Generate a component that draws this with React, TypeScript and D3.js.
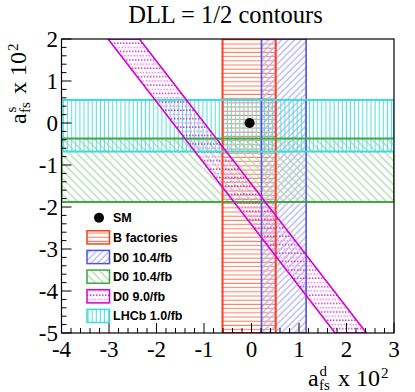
import React from "react";
import * as d3 from "d3";

// ---- data (units of 10^-2) ----
const xDomain = [-4, 3];
const yDomain = [-5, 2];
const xTickValues = [-4, -3, -2, -1, 0, 1, 2, 3];
const yTickValues = [-5, -4, -3, -2, -1, 0, 1, 2];
const bFactoriesAd = [-0.61, 0.51];
const d0AdRange = [0.21, 1.15];
const d0AsRange = [-1.88, -0.37];
const lhcbAsRange = [-0.68, 0.55];
const d0DimuonAtTop = [-3.02, -2.36]; // a_fs^d edges where a_fs^s = 2
const d0DimuonAtBottom = [1.76, 2.42]; // a_fs^d edges where a_fs^s = -5
const smPoint = [-0.04, 0.0];
const legendLabels = ["SM", "B factories", "D0 10.4/fb", "D0 10.4/fb", "D0 9.0/fb", "LHCb 1.0/fb"];
const legendKeys = ["sm", "bfac", "d0d", "d0s", "d0mu", "lhcb"];

const W = 415, H = 392;
const M = { left: 61.5, right: 394, top: 39, bottom: 333 };

const colors: Record<string, { line: string; hatch: string }> = {
  bfac: { line: "#ff3d1f", hatch: "#ff8266" },
  d0d: { line: "#5050e0", hatch: "#b4b4ee" },
  d0s: { line: "#3fa83f", hatch: "#b0dab0" },
  d0mu: { line: "#d600d6", hatch: "#e060e0" },
  lhcb: { line: "#40d8d8", hatch: "#5cdcdc" },
};

const serifStyle = { fontFamily: '"Liberation Serif", "Times New Roman", serif' };
const sansStyle = { fontFamily: '"Liberation Sans", Arial, sans-serif' };

export default function App() {
  const x = d3.scaleLinear().domain(xDomain).range([M.left, M.right]);
  const y = d3.scaleLinear().domain(yDomain).range([M.bottom, M.top]);
  const xMinor = d3.range(0, 36).map((i) => xDomain[0] + i * 0.2);
  const yMinor = d3.range(0, 36).map((i) => yDomain[0] + i * 0.2);

  const magPoly = [
    [x(d0DimuonAtTop[0]), y(yDomain[1])],
    [x(d0DimuonAtTop[1]), y(yDomain[1])],
    [x(d0DimuonAtBottom[1]), y(yDomain[0])],
    [x(d0DimuonAtBottom[0]), y(yDomain[0])],
  ];
  const polyStr = magPoly.map((p) => p.join(",")).join(" ");

  const vRect = (r: number[]) => ({ x: x(r[0]), y: y(yDomain[1]), w: x(r[1]) - x(r[0]), h: y(yDomain[0]) - y(yDomain[1]) });
  const hRect = (r: number[]) => ({ x: x(xDomain[0]), y: y(r[1]), w: x(xDomain[1]) - x(xDomain[0]), h: y(r[0]) - y(r[1]) });
  const bands = [
    { key: "bfac", r: vRect(bFactoriesAd), lw: 2 },
    { key: "d0d", r: vRect(d0AdRange), lw: 1.6 },
    { key: "d0s", r: hRect(d0AsRange), lw: 2 },
    { key: "lhcb", r: hRect(lhcbAsRange), lw: 2 },
  ];

  const label = (sup: string, tx: number, ty: number, rotate: boolean) => (
    <g transform={`translate(${tx},${ty})${rotate ? " rotate(-90)" : ""}`} fill="#000">
      <text x={0} y={0} fontSize={24} style={serifStyle}>a</text>
      <text x={11.5} y={-10} fontSize={15} style={serifStyle}>{sup}</text>
      <text x={11} y={4} fontSize={15} style={serifStyle}>fs</text>
      <text x={30} y={0} fontSize={24} style={serifStyle}>x 10</text>
      <text x={73} y={-8} fontSize={15} style={serifStyle}>2</text>
    </g>
  );

  return (
    <svg width={W} height={H} style={{ position: "absolute", left: 0, top: 0, background: "#fff" }}>
      <defs>
        <clipPath id="plotclip">
          <rect x={M.left} y={M.top} width={M.right - M.left} height={M.bottom - M.top} />
        </clipPath>
        <pattern id="p-bfac" patternUnits="userSpaceOnUse" width={8} height={4.2}>
          <line x1={0} x2={8} y1={2} y2={2} stroke={colors.bfac.hatch} strokeWidth={1.1} />
        </pattern>
        <pattern id="p-lhcb" patternUnits="userSpaceOnUse" width={4.1} height={8}>
          <line x1={2} x2={2} y1={0} y2={8} stroke={colors.lhcb.hatch} strokeWidth={1.1} />
        </pattern>
        <pattern id="p-d0d" patternUnits="userSpaceOnUse" width={4.6} height={8} patternTransform="rotate(45)">
          <line x1={2} x2={2} y1={0} y2={8} stroke={colors.d0d.hatch} strokeWidth={1.3} />
        </pattern>
        <pattern id="p-d0s" patternUnits="userSpaceOnUse" width={5.6} height={8} patternTransform="rotate(-45)">
          <line x1={2} x2={2} y1={0} y2={8} stroke={colors.d0s.hatch} strokeWidth={1.3} />
        </pattern>
        <pattern id="p-d0mu" patternUnits="userSpaceOnUse" width={6} height={8.4}>
          <rect x={0} y={0.5} width={1.5} height={1.2} fill="#d000d0" />
          <rect x={3} y={0.5} width={1.5} height={1.2} fill="#d000d0" />
          <rect x={1.5} y={4.6} width={2} height={1.5} fill="#f090f0" />
          <rect x={4.5} y={4.6} width={2} height={1.5} fill="#f090f0" />
        </pattern>
      </defs>

      {/* title */}
      <text x={225.5} y={23} fontSize={24.5} textAnchor="middle" style={serifStyle}>DLL = 1/2 contours</text>

      {/* bands */}
      <g clipPath="url(#plotclip)">
        {bands.map((b) => (
          <rect key={b.key + "f"} x={b.r.x} y={b.r.y} width={b.r.w} height={b.r.h} fill={`url(#p-${b.key})`} />
        ))}
        <polygon points={polyStr} fill="url(#p-d0mu)" />
        {bands.map((b) => (
          <rect key={b.key + "o"} x={b.r.x} y={b.r.y} width={b.r.w} height={b.r.h} fill="none" stroke={colors[b.key].line} strokeWidth={b.lw} />
        ))}
        <polygon points={polyStr} fill="none" stroke={colors.d0mu.line} strokeWidth={1.6} />
        <circle cx={x(smPoint[0])} cy={y(smPoint[1])} r={5} fill="#000" />
      </g>

      {/* ticks */}
      <g stroke="#000" strokeWidth={1}>
        {xMinor.map((v, i) => {
          const major = i % 5 === 0;
          return <line key={"xt" + i} x1={x(v)} x2={x(v)} y1={M.bottom} y2={M.bottom - (major ? 10 : 5)} />;
        })}
        {yMinor.map((v, i) => {
          const major = i % 5 === 0;
          return <line key={"yt" + i} x1={M.left} x2={M.left + (major ? 10 : 5)} y1={y(v)} y2={y(v)} />;
        })}
      </g>
      <rect x={M.left} y={M.top} width={M.right - M.left} height={M.bottom - M.top} fill="none" stroke="#000" strokeWidth={1.2} />

      {/* tick labels */}
      <g fill="#000">
        {xTickValues.map((v) => (
          <text key={"xl" + v} x={x(v)} y={357} fontSize={23} textAnchor="middle" style={serifStyle}>{v}</text>
        ))}
        {yTickValues.map((v) => (
          <text key={"yl" + v} x={58} y={y(v)} dy="0.35em" fontSize={23} textAnchor="end" style={serifStyle}>{v}</text>
        ))}
      </g>

      {/* axis titles */}
      {label("d", 308, 386, false)}
      {label("s", 25.5, 124, true)}

      {/* legend */}
      <g>
        {legendKeys.map((k, i) => {
          const cy = 217.7 + i * 19.65;
          return (
            <g key={"lg" + k}>
              {k === "sm" ? (
                <circle cx={99} cy={cy} r={5} fill="#000" />
              ) : (
                <rect x={87} y={cy - 6.6} width={22.5} height={13.2} fill={`url(#p-${k})`} stroke={colors[k].line} strokeWidth={1.5} />
              )}
              <text x={113} y={cy} dy="0.36em" fontWeight="bold" fontSize={12.5} style={sansStyle}>{legendLabels[i]}</text>
            </g>
          );
        })}
      </g>
    </svg>
  );
}
